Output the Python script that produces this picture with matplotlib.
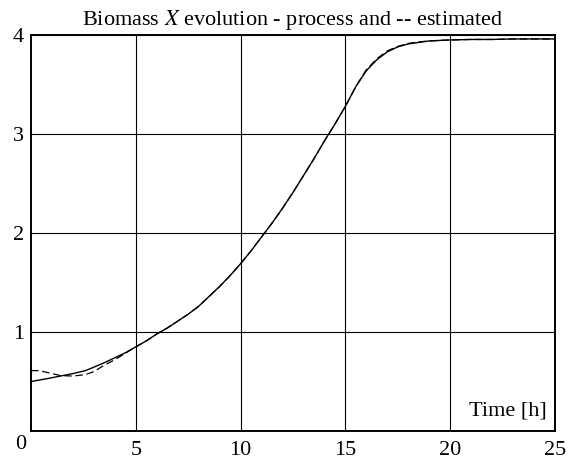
import numpy as np
import matplotlib
matplotlib.use("Agg")
import matplotlib.pyplot as plt

plt.rcParams['font.family'] = ['Liberation Serif', 'DejaVu Serif']
plt.rcParams['mathtext.fontset'] = 'stix'

# time axis [h] and biomass readings
time_h = [0, 0.4, 0.8, 1.4, 2, 2.6, 3, 3.5, 4, 4.5, 5, 5.5, 6, 6.5, 7, 7.5, 8, 8.5,
          9, 9.5, 10, 10.5, 11, 11.5, 12, 12.5, 13, 13.5, 14, 14.5, 15, 15.5,
          16, 16.5, 17, 17.5, 18, 18.5, 19, 20, 21, 22, 23, 24, 25]
x_process = [0.50, 0.515, 0.53, 0.555, 0.58, 0.61, 0.645, 0.69, 0.74, 0.79, 0.85, 0.91,
             0.98, 1.04, 1.11, 1.18, 1.26, 1.36, 1.46, 1.57, 1.69, 1.82, 1.96, 2.10,
             2.25, 2.41, 2.58, 2.75, 2.93, 3.10, 3.28, 3.48, 3.64, 3.75, 3.83, 3.88,
             3.91, 3.925, 3.94, 3.95, 3.955, 3.955, 3.96, 3.96, 3.96]
x_estimated = [0.61, 0.61, 0.59, 0.56, 0.555, 0.57, 0.60, 0.665, 0.72, 0.785, 0.85, 0.91,
               0.98, 1.04, 1.11, 1.18, 1.26, 1.36, 1.46, 1.57, 1.69, 1.82, 1.96, 2.10,
               2.25, 2.41, 2.58, 2.75, 2.93, 3.10, 3.28, 3.48, 3.65, 3.76, 3.84, 3.885,
               3.915, 3.93, 3.94, 3.95, 3.955, 3.955, 3.96, 3.96, 3.96]

x_ticks = [5, 10, 15, 20, 25]
y_ticks = [1, 2, 3, 4]

fig = plt.figure(figsize=(5.69, 4.66), dpi=100)
ax = fig.add_axes([0.0545, 0.0751, 0.9209, 0.8498])

ax.plot(time_h, x_process, color='black', lw=1.0, ls='-')
ax.plot(time_h, x_estimated, color='black', lw=0.9, ls=(0, (6, 3)))

ax.set_xlim(0, 25)
ax.set_ylim(0, 4)
ax.set_xticks(x_ticks)
ax.set_yticks(y_ticks)
ax.grid(True, color='black', lw=0.8)
ax.set_axisbelow(True)
ax.tick_params(length=0, labelsize=16)
ax.tick_params(axis='x', pad=7)
ax.tick_params(axis='y', pad=5)
for s in ax.spines.values():
    s.set_linewidth(1.4)

# shared origin label
ax.text(-0.019, -0.035, '0', transform=ax.transAxes, ha='center', va='center', fontsize=16)
ax.text(24.6, 0.2, 'Time [h]', ha='right', va='center', fontsize=16)
ax.set_title('Biomass $X$ evolution - process and -- estimated', fontsize=16, pad=7)

fig.savefig('out.png', dpi=100)
